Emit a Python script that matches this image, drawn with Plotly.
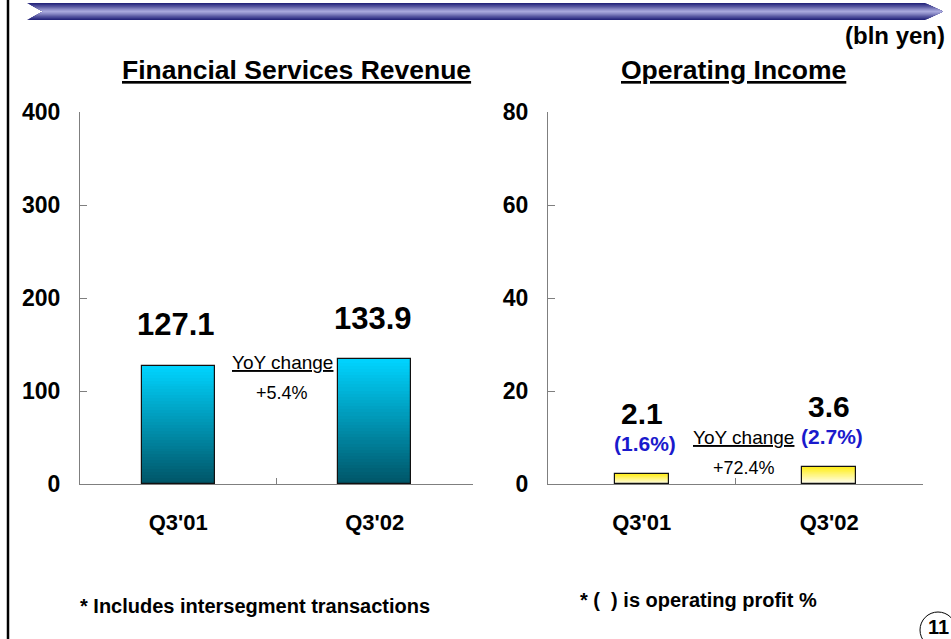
import plotly.graph_objects as go

# ---------------- data ----------------
categories = ["Q3'01", "Q3'02"]
revenue = [127.1, 133.9]
op_income = [2.1, 3.6]
op_margin_labels = ["(1.6%)", "(2.7%)"]
revenue_yoy = "+5.4%"
income_yoy = "+72.4%"
rev_ticks = [0, 100, 200, 300, 400]
inc_ticks = [0, 20, 40, 60, 80]

W, H = 951, 639
FONT = "Liberation Sans, Arial, sans-serif"


def hex2rgb(h):
    h = h.lstrip('#')
    return tuple(int(h[i:i + 2], 16) for i in (0, 2, 4))


def lerp(c1, c2, t):
    a, b = hex2rgb(c1), hex2rgb(c2)
    return "rgb(%d,%d,%d)" % tuple(round(a[i] + (b[i] - a[i]) * t) for i in range(3))


def px(x, y):
    return "%.5f %.5f" % (x / W, 1 - y / H)


fig = go.Figure()

N = 40


def gradient_bars(vals, xa, ya, width, c_bottom, c_top):
    for i in range(N):
        fig.add_trace(go.Bar(
            x=categories, y=[v / N for v in vals], base=[v * i / N for v in vals],
            width=width, xaxis=xa, yaxis=ya,
            marker=dict(color=lerp(c_bottom, c_top, (i + 0.5) / N), line=dict(width=0)),
            hoverinfo="skip", showlegend=False))
    fig.add_trace(go.Bar(
        x=categories, y=vals, width=width, xaxis=xa, yaxis=ya,
        marker=dict(color="rgba(0,0,0,0)", line=dict(color="#111111", width=1.2)),
        showlegend=False))


gradient_bars(revenue, "x", "y", 0.37, "#005466", "#00d4ff")
gradient_bars(op_income, "x2", "y2", 0.29, "#ffffff", "#ffee22")

axis_common = dict(showline=True, linecolor="#7f7f7f", linewidth=1, ticks="inside",
                   tickcolor="#7f7f7f", showgrid=False, zeroline=False, fixedrange=True)
ytick_font = dict(family=FONT, size=23, color="#000000", weight="bold")
xtick_font = dict(family=FONT, size=22, color="#000000", weight="bold")

fig.update_layout(
    width=W, height=H, margin=dict(l=0, r=0, t=0, b=0, autoexpand=False),
    paper_bgcolor="white", plot_bgcolor="white",
    barmode="overlay", bargap=0, showlegend=False,
    xaxis=dict(domain=[80 / W, 473 / W], anchor="y", type="category",
               tickson="boundaries", ticklen=6, tickfont=xtick_font,
               ticklabelstandoff=19, **axis_common),
    yaxis=dict(domain=[1 - 484 / H, 1 - 112 / H], anchor="x", range=[0, 400],
               tickvals=rev_ticks, ticklen=7, tickfont=ytick_font,
               ticklabelstandoff=14, **axis_common),
    xaxis2=dict(domain=[548 / W, 923 / W], anchor="y2", type="category",
                tickson="boundaries", ticklen=6, tickfont=xtick_font,
                ticklabelstandoff=19, **axis_common),
    yaxis2=dict(domain=[1 - 484 / H, 1 - 112 / H], anchor="x2", range=[0, 80],
                tickvals=inc_ticks, ticklen=7, tickfont=ytick_font,
                ticklabelstandoff=14, **axis_common),
)

ann = []
# value labels
for c, v in zip(categories, revenue):
    ann.append(dict(x=c, y=v, xref="x", yref="y", text="<b>%.1f</b>" % v, showarrow=False,
                    yanchor="middle", yshift=41, xshift=-2, font=dict(family=FONT, size=31, color="#000")))
for c, v, m in zip(categories, op_income, op_margin_labels):
    ann.append(dict(x=c, y=v, xref="x2", yref="y2", text="<b>%.1f</b>" % v, showarrow=False,
                    yanchor="middle", yshift=61, font=dict(family=FONT, size=30, color="#000")))
    ann.append(dict(x=c, y=v, xref="x2", yref="y2", text="<b>%s</b>" % m, showarrow=False,
                    yanchor="middle", yshift=31, xshift=3, font=dict(family=FONT, size=21, color="#1a1acc")))

# YoY annotations
ann += [
    dict(x=0.5, y=131, xref="x", yref="y", text="<u>YoY change</u>", showarrow=False,
         xshift=6, font=dict(family=FONT, size=19, color="#000")),
    dict(x=0.5, y=98, xref="x", yref="y", text=revenue_yoy, showarrow=False,
         xshift=5, font=dict(family=FONT, size=18, color="#000")),
    dict(x=0.5, y=10.0, xref="x2", yref="y2", text="<u>YoY change</u>", showarrow=False,
         xshift=8, font=dict(family=FONT, size=19, color="#000")),
    dict(x=0.5, y=3.4, xref="x2", yref="y2", text=income_yoy, showarrow=False,
         xshift=8, font=dict(family=FONT, size=18, color="#000")),
]


# titles and notes (paper/pixel positions)
def pann(x, y, text, size, xanchor="center", color="#000"):
    return dict(x=x / W, y=1 - y / H, xref="paper", yref="paper", text=text, showarrow=False,
                xanchor=xanchor, yanchor="middle", font=dict(family=FONT, size=size, color=color))


ann += [
    pann(296, 70, "<b><u>Financial Services Revenue</u></b>", 26.5),
    pann(733, 70, "<b><u>Operating Income</u></b>", 26.5),
    pann(947, 35, "<b>(bln yen)</b>", 24, xanchor="right"),
    pann(78, 606, "<b>* Includes intersegment transactions</b>", 20, xanchor="left"),
    pann(578, 600, "<b>* (  ) is operating profit %</b>", 20, xanchor="left"),
    pann(926, 627, "<b>11</b>", 20, xanchor="left"),
]
fig.update_layout(annotations=ann)

# ---------------- decorations ----------------
shapes = []
c = 11.5
hmax = 8.5
K = 10
for k in range(K):
    h = hmax * (1 - k / K)
    t = k / (K - 1)
    col = lerp("#23237a", "#a8a8dc", t)
    xl = 43 - 16 * h / hmax
    xr = 925 + 18 * (1 - h / hmax)
    path = "M %s L %s L %s L %s L %s L %s Z" % (
        px(xl, c - h), px(xr, c - h), px(943, c), px(xr, c + h), px(xl, c + h), px(43, c))
    shapes.append(dict(type="path", xref="paper", yref="paper", path=path,
                       fillcolor=col, line=dict(width=0), layer="above"))
# left frame line
shapes.append(dict(type="line", xref="paper", yref="paper", x0=8 / W, x1=8 / W, y0=0, y1=1,
                   line=dict(color="#000", width=2.5)))
# page number circle
shapes.append(dict(type="circle", xref="paper", yref="paper",
                   x0=920 / W, x1=956 / W, y0=1 - 648 / H, y1=1 - 612 / H,
                   line=dict(color="#000", width=1)))
fig.update_layout(shapes=shapes)

fig.write_html("out.html", config={"displayModeBar": False},
               post_script="document.body.style.margin='0';document.body.style.overflow='hidden';")
